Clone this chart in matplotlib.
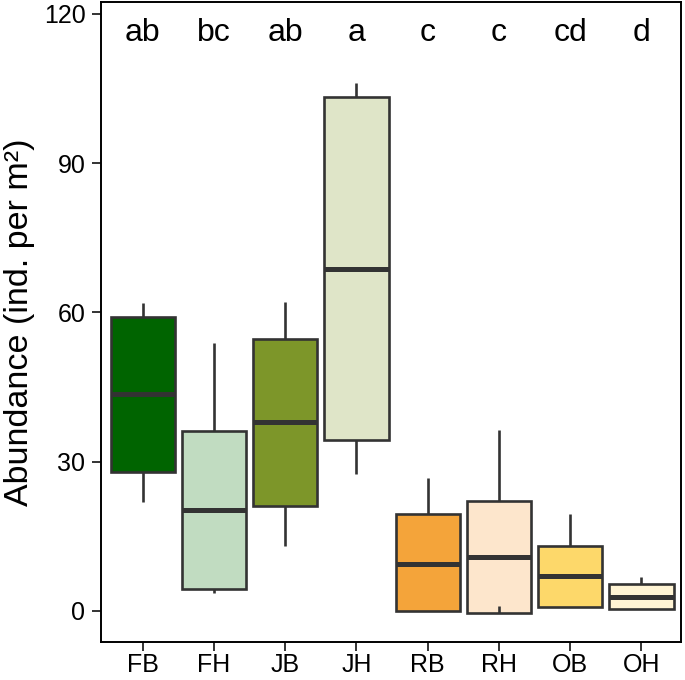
import matplotlib
matplotlib.use("Agg")
import matplotlib.pyplot as plt
from matplotlib.patches import Rectangle

plt.rcParams['font.family'] = ['Liberation Sans', 'DejaVu Sans']

groups = ['FB', 'FH', 'JB', 'JH', 'RB', 'RH', 'OB', 'OH']
whisker_lo = [21.9, 3.5, 13.1, 27.4, -0.1, 0.95, 0.8, 0.3]
q1 = [28.0, 4.4, 21.1, 34.3, -0.1, -0.5, 0.8, 0.3]
median = [43.6, 20.3, 37.9, 68.7, 9.5, 10.8, 7.0, 2.7]
q3 = [59.0, 36.1, 54.7, 103.4, 19.4, 22.1, 13.1, 5.3]
whisker_hi = [61.8, 53.9, 62.1, 106.2, 26.6, 36.3, 19.4, 6.8]
letters = ['ab', 'bc', 'ab', 'a', 'c', 'c', 'cd', 'd']
colors = ['#006400', '#C1DCC1', '#7D9629', '#DFE5C8',
          '#F4A43A', '#FDE6CC', '#FDD86A', '#FFF4D4']

fig = plt.figure(figsize=(6.85, 6.80), dpi=100)
ax = fig.add_axes([0.148, 0.0554, 0.8457, 0.9416])

edge = '#333333'
width = 0.9
for i, g in enumerate(groups):
    x = i + 1
    ax.plot([x, x], [q3[i], whisker_hi[i]], color=edge, lw=1.9, solid_capstyle='butt', zorder=1)
    ax.plot([x, x], [q1[i], whisker_lo[i]], color=edge, lw=1.9, solid_capstyle='butt', zorder=3)
    ax.add_patch(Rectangle((x - width / 2, q1[i]), width, q3[i] - q1[i],
                           facecolor=colors[i], edgecolor=edge, lw=1.9, zorder=2))
    ax.plot([x - width / 2, x + width / 2], [median[i], median[i]],
            color=edge, lw=3.6, solid_capstyle='butt', zorder=3)
    ax.text(x, 116.2, letters[i], ha='center', va='center', fontsize=23, color='black')

ax.set_xlim(0.42, 8.55)
ax.set_ylim(-6.35, 122.4)
ax.set_xticks(range(1, len(groups) + 1))
ax.set_xticklabels(groups)
ax.set_yticks([0, 30, 60, 90, 120])
ax.tick_params(axis='both', labelsize=18, length=6.5, width=1.4, color='#333333',
               labelcolor='black')
ax.tick_params(axis='y', pad=5)
ax.tick_params(axis='x', pad=1.5)
ax.set_ylabel('Abundance (ind. per m²)', fontsize=24.5, labelpad=6)
for s in ax.spines.values():
    s.set_linewidth(1.4)
    s.set_color('black')

fig.savefig('out.png', dpi=100)
